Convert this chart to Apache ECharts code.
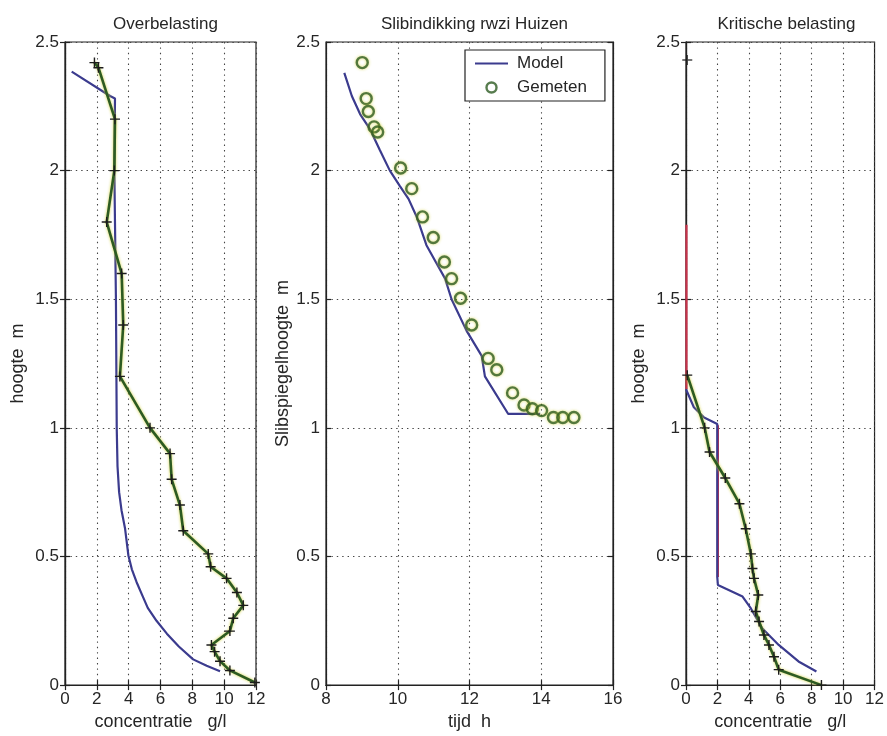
<!DOCTYPE html>
<html>
<head>
<meta charset="utf-8">
<script src="https://cdn.jsdelivr.net/npm/echarts@6/dist/echarts.min.js"></script>
<style>
  html, body { margin: 0; padding: 0; background: #fff; }
  #chart { width: 887px; height: 736px; }
</style>
</head>
<body>
<div id="chart"></div>
<script>
// ---- Overbelasting: model profile ----
const overModelConc   = [0.42, 2.83, 3.14, 3.12, 3.10, 3.2, 3.25, 3.3, 3.4, 3.55, 3.77, 3.98, 4.2, 4.5, 4.85, 5.2, 5.75, 6.4, 7.15, 8.05, 8.9, 9.74];
const overModelHeight = [2.385, 2.29, 2.28, 2.1, 2.0, 1.5, 1.0, 0.85, 0.75, 0.68, 0.61, 0.505, 0.45, 0.40, 0.35, 0.30, 0.25, 0.20, 0.15, 0.10, 0.075, 0.054];
// ---- Overbelasting: measured profile ----
const overMeasConc   = [1.85, 2.1, 3.14, 3.1, 2.62, 3.56, 3.66, 3.45, 5.34, 6.6, 6.7, 7.22, 7.43, 9.0, 9.15, 10.15, 10.8, 11.2, 10.57, 10.36, 9.2, 9.4, 9.74, 10.36, 11.93];
const overMeasHeight = [2.42, 2.40, 2.2, 2.0, 1.8, 1.6, 1.4, 1.2, 1.0, 0.9, 0.8, 0.7, 0.6, 0.51, 0.46, 0.415, 0.36, 0.31, 0.26, 0.21, 0.156, 0.13, 0.093, 0.057, 0.01];

// ---- Slibindikking rwzi Huizen: sludge blanket height over time ----
const slibModelTime   = [8.51, 8.72, 8.95, 9.23, 9.5, 9.78, 10.06, 10.3, 10.53, 10.8, 11.08, 11.32, 11.5, 11.92, 12.34, 12.43, 13.08, 13.97];
const slibModelHeight = [2.38, 2.29, 2.22, 2.16, 2.08, 2.0, 1.94, 1.89, 1.82, 1.71, 1.64, 1.58, 1.50, 1.377, 1.28, 1.20, 1.054, 1.054];
const slibMeasTime   = [9.01, 9.12, 9.18, 9.34, 9.44, 10.08, 10.39, 10.69, 10.99, 11.3, 11.5, 11.75, 12.06, 12.52, 12.76, 13.2, 13.52, 13.75, 14.01, 14.34, 14.6, 14.91];
const slibMeasHeight = [2.42, 2.28, 2.23, 2.17, 2.15, 2.01, 1.93, 1.82, 1.74, 1.645, 1.58, 1.504, 1.40, 1.27, 1.226, 1.136, 1.089, 1.074, 1.067, 1.04, 1.04, 1.04];

// ---- Kritische belasting: model profiles ----
const kritModelConc   = [0.0, 0.5, 1.15, 1.99, 1.99, 2.03, 3.6, 4.13, 4.86, 5.9, 7.16, 8.3];
const kritModelHeight = [1.15, 1.08, 1.04, 1.015, 0.42, 0.389, 0.344, 0.298, 0.22, 0.156, 0.092, 0.053];
const kritRedTopConc   = [0.03, 0.03];
const kritRedTopHeight = [1.79, 1.15];
const kritRedMidConc   = [2.03, 2.03];
const kritRedMidHeight = [1.01, 0.42];
// ---- Kritische belasting: measured profile ----
const kritTopConc   = [0.08];
const kritTopHeight = [2.43];
const kritMeasConc   = [0.08, 1.19, 1.5, 2.5, 3.4, 3.8, 4.13, 4.23, 4.33, 4.6, 4.44, 4.65, 4.96, 5.28, 5.6, 5.9, 8.62];
const kritMeasHeight = [1.205, 1.0, 0.906, 0.805, 0.705, 0.608, 0.51, 0.453, 0.415, 0.35, 0.286, 0.247, 0.195, 0.156, 0.11, 0.06, 0.0];

// ---- axis ticks ----
const concTicks = { min: 0, max: 12, interval: 2 };
const timeTicks = { min: 8, max: 16, interval: 2 };
const heightTicks = { min: 0, max: 2.5, interval: 0.5 };

const titles = ['Overbelasting', 'Slibindikking rwzi Huizen', 'Kritische belasting'];
const yNames = ['hoogte  m', 'Slibspiegelhoogte  m', 'hoogte  m'];
const xNames = ['concentratie   g/l', 'tijd  h', 'concentratie   g/l'];

const FONT = '"Liberation Sans", Arial, Helvetica, sans-serif';
const TEXT = '#262626';
const BLUE = '#3b3b8e';
const RED = '#c8324a';
const GREEN = '#2d5b22';
const HALO = 'rgba(205, 205, 40, 0.9)';
const PLUS = 'path://M4.3,0h1.4v4.3h4.3v1.4h-4.3v4.3h-1.4v-4.3h-4.3v-1.4h4.3z';

const pairs = (xs, ys) => xs.map((x, i) => [x, ys[i]]);

const grids = [
  { left: 65,  top: 42, width: 191, height: 645 },
  { left: 326, top: 42, width: 287, height: 645 },
  { left: 686, top: 42, width: 191, height: 645 }
];
const xRanges = [concTicks, timeTicks, concTicks];
const yNameGaps = [38, 30, 38];

const dotted = { show: true, lineStyle: { color: '#444', width: 1.1, type: [1.4, 4] } };
const line = { show: true, lineStyle: { color: '#222', width: 1.2 } };
const tick = { show: true, inside: true, length: 5, lineStyle: { color: '#222', width: 1.2 } };

const xAxes = [], yAxes = [];
grids.forEach((g, i) => {
  const r = xRanges[i];
  xAxes.push({
    type: 'value', gridIndex: i, position: 'bottom', min: r.min, max: r.max, interval: r.interval,
    name: xNames[i], nameLocation: 'middle', nameGap: 27,
    nameTextStyle: { fontFamily: FONT, fontSize: 18, color: TEXT },
    axisLine: line, axisTick: tick, splitLine: dotted,
    axisLabel: { fontFamily: FONT, fontSize: 17, color: TEXT, margin: 6 }
  });
  xAxes.push({
    type: 'value', gridIndex: i, position: 'top', min: r.min, max: r.max, interval: r.interval,
    axisLine: line, axisTick: tick, splitLine: { show: false }, axisLabel: { show: false }
  });
  yAxes.push({
    type: 'value', gridIndex: i, position: 'left', min: heightTicks.min, max: heightTicks.max, interval: heightTicks.interval,
    name: yNames[i], nameLocation: 'middle', nameGap: yNameGaps[i], nameRotate: 90,
    nameTextStyle: { fontFamily: FONT, fontSize: 18, color: TEXT },
    axisLine: line, axisTick: tick, splitLine: dotted,
    axisLabel: { fontFamily: FONT, fontSize: 17, color: TEXT, margin: 6 }
  });
  yAxes.push({
    type: 'value', gridIndex: i, position: 'right', min: heightTicks.min, max: heightTicks.max, interval: heightTicks.interval,
    axisLine: line, axisTick: tick, splitLine: { show: false }, axisLabel: { show: false }
  });
});

function modelSeries(name, idx, xs, ys, color) {
  return {
    name, type: 'line', xAxisIndex: idx * 2, yAxisIndex: idx * 2,
    data: pairs(xs, ys), showSymbol: false, symbol: 'none', smooth: false,
    lineStyle: { color, width: 2.2 }, itemStyle: { color }, z: 3, silent: true
  };
}
function measuredSeries(name, idx, xs, ys) {
  return {
    name, type: 'line', xAxisIndex: idx * 2, yAxisIndex: idx * 2,
    data: pairs(xs, ys), symbol: PLUS, symbolSize: 10,
    itemStyle: { color: '#1c1c1c' },
    lineStyle: { color: GREEN, width: 2.6, shadowColor: HALO, shadowBlur: 3 },
    z: 4, silent: true
  };
}

const series = [
  modelSeries('Model overbelasting', 0, overModelConc, overModelHeight, BLUE),
  measuredSeries('Gemeten overbelasting', 0, overMeasConc, overMeasHeight),
  modelSeries('Model', 1, slibModelTime, slibModelHeight, BLUE),
  {
    name: 'Gemeten', type: 'scatter', xAxisIndex: 2, yAxisIndex: 2,
    data: pairs(slibMeasTime, slibMeasHeight), symbol: 'circle', symbolSize: 11,
    itemStyle: { color: 'rgba(255,255,255,0)', borderColor: GREEN, borderWidth: 2.4, shadowColor: HALO, shadowBlur: 3 },
    z: 4, silent: true
  },
  modelSeries('Model kritisch boven', 2, kritRedTopConc, kritRedTopHeight, RED),
  modelSeries('Model kritisch midden', 2, kritRedMidConc, kritRedMidHeight, RED),
  modelSeries('Model kritisch', 2, kritModelConc, kritModelHeight, BLUE),
  measuredSeries('Gemeten kritisch', 2, kritMeasConc, kritMeasHeight),
  {
    name: 'Gemeten kritisch top', type: 'scatter', xAxisIndex: 4, yAxisIndex: 4,
    data: pairs(kritTopConc, kritTopHeight), symbol: PLUS, symbolSize: 10,
    itemStyle: { color: '#1c1c1c' }, z: 4, silent: true
  }
];

const chart = echarts.init(document.getElementById('chart'), null, { renderer: 'canvas' });
chart.setOption({
  animation: false,
  backgroundColor: '#ffffff',
  title: grids.map((g, i) => ({
    text: titles[i], left: g.left + g.width / 2, top: 11, textAlign: 'center',
    textStyle: { fontFamily: FONT, fontSize: 17, fontWeight: 'normal', color: TEXT }
  })),
  grid: grids.map(g => Object.assign({ show: true, borderColor: '#222', borderWidth: 1.2, backgroundColor: '#fff' }, g)),
  xAxis: xAxes,
  yAxis: yAxes,
  legend: {
    data: [
      { name: 'Model', icon: 'path://M0,0h30v2h-30z', itemStyle: { color: BLUE } },
      { name: 'Gemeten', icon: 'circle', itemStyle: { color: 'rgba(255,255,255,0)', borderColor: GREEN, borderWidth: 2.4 } }
    ],
    orient: 'vertical', left: 465, top: 50,
    itemWidth: 33, itemHeight: 10, itemGap: 7,
    padding: [5, 18, 5, 10],
    backgroundColor: '#fff', borderColor: '#222', borderWidth: 1.2, borderRadius: 0,
    textStyle: { fontFamily: FONT, fontSize: 17, color: TEXT, padding: [0, 0, 0, 4] },
    selectedMode: false
  },
  series
});
</script>
</body>
</html>
